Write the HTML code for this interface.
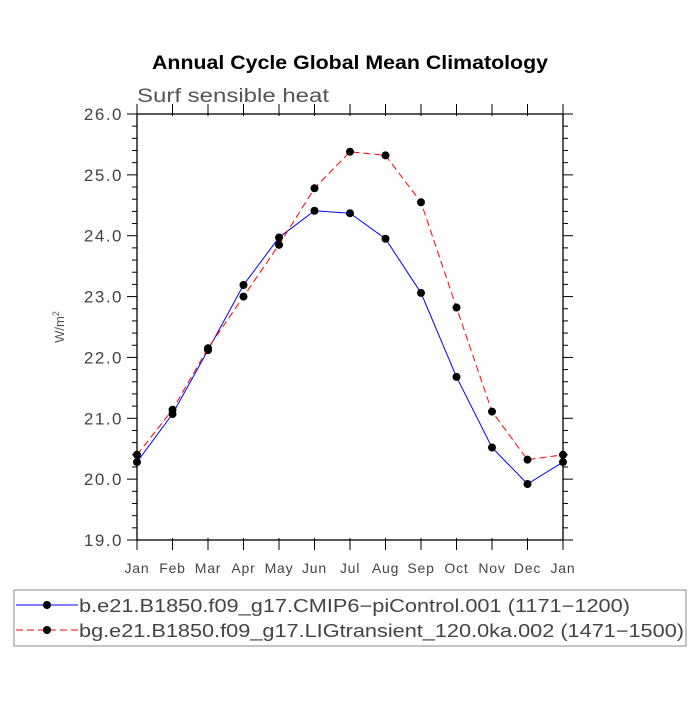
<!DOCTYPE html>
<html><head><meta charset="utf-8"><style>
body{margin:0;background:#fff;}
text{font-family:"Liberation Sans",sans-serif;}
</style></head><body>
<svg width="700" height="700" xmlns="http://www.w3.org/2000/svg">
<rect width="700" height="700" fill="#fff"/>
<text x="152" y="69" textLength="396" lengthAdjust="spacingAndGlyphs" font-size="19" font-weight="bold">Annual Cycle Global Mean Climatology</text>
<text x="137" y="102" textLength="192" lengthAdjust="spacingAndGlyphs" font-size="19" fill="#555">Surf sensible heat</text>
<text transform="translate(64,327) rotate(-90)" text-anchor="middle" font-size="13" fill="#555">W/m<tspan font-size="9" dy="-5">2</tspan></text>
<g id="axes"></g>
<g id="series"></g>
<rect x="14" y="590" width="672" height="56" fill="none" stroke="#888"/>
<g id="legend"></g>
</svg>
<script>
const months=["Jan","Feb","Mar","Apr","May","Jun","Jul","Aug","Sep","Oct","Nov","Dec","Jan"];
const blueVals=[20.28,21.07,22.12,23.19,23.97,24.41,24.37,23.95,23.06,21.68,20.52,19.92,20.28];
const redVals=[20.40,21.14,22.15,23.00,23.85,24.78,25.38,25.32,24.55,22.82,21.11,20.32,20.40];
const yTicks=[19,20,21,22,23,24,25,26];
const legendLabels=["b.e21.B1850.f09_g17.CMIP6\u2212piControl.001 (1171\u22121200)","bg.e21.B1850.f09_g17.LIGtransient_120.0ka.002 (1471\u22121500)"];
const legendLens=[551,605];
const L=137,R=563,T=114,B=540,ymin=19,ymax=26;
const xs=i=>L+(R-L)*i/(months.length-1);
const ys=v=>B-(B-T)*(v-ymin)/(ymax-ymin);
const NS="http://www.w3.org/2000/svg";
function mk(tag,attrs,parent,txt){const e=document.createElementNS(NS,tag);for(const k in attrs)e.setAttribute(k,attrs[k]);if(txt!==undefined)e.textContent=txt;parent.appendChild(e);return e;}
const ax=document.getElementById('axes');
const fr=mk('rect',{x:L,y:T,width:R-L,height:B-T,fill:'none',stroke:'#000','stroke-width':1.3},ax);


months.forEach((m,i)=>{const x=xs(i);
mk('line',{x1:x,y1:B-2,x2:x,y2:B+10,stroke:'#000','stroke-width':1},ax);
mk('line',{x1:x,y1:T+2,x2:x,y2:T-10,stroke:'#000','stroke-width':1},ax);
const t=mk('text',{x:x,y:B+33,'text-anchor':'middle','font-size':14,'letter-spacing':0.8,fill:'#444'},ax,m);


});
for(let v=ymin;v<=ymax+1e-6;v+=0.2){const y=ys(v);const major=Math.abs(v-Math.round(v))<1e-6;const len=major?10:5;
mk('line',{x1:L,y1:y,x2:L-len,y2:y,stroke:'#000','stroke-width':1},ax);
mk('line',{x1:R,y1:y,x2:R+len,y2:y,stroke:'#000','stroke-width':1},ax);}
yTicks.forEach(v=>{const t=mk('text',{x:L-14,y:ys(v)+6,'text-anchor':'end','font-size':17,'letter-spacing':1.5,fill:'#444'},ax,v.toFixed(1));

});
const sg=document.getElementById('series');
function series(vals,color,dash,name){
const pl=mk('polyline',{points:vals.map((v,i)=>xs(i)+','+ys(v)).join(' '),fill:'none',stroke:color,'stroke-width':1,'stroke-dasharray':dash},sg);


vals.forEach((v,i)=>{const c=mk('circle',{cx:xs(i),cy:ys(v),r:4,fill:'#000'},sg);

});}
series(blueVals,'#00f','none','picontrol');
series(redVals,'#f00','7,4','ligtransient');
const lg=document.getElementById('legend');
[['#00f','none'],['#f00','7,4']].forEach((s,i)=>{const y=605+i*25;
mk('line',{x1:16,y1:y,x2:78,y2:y,stroke:s[0],'stroke-dasharray':s[1]},lg);
mk('circle',{cx:47,cy:y,r:4,fill:'#000'},lg);
const t=mk('text',{x:79,y:y+7,'font-size':18,fill:'#444',textLength:legendLens[i],lengthAdjust:'spacingAndGlyphs'},lg,legendLabels[i]);

});
</script>
</body></html>
